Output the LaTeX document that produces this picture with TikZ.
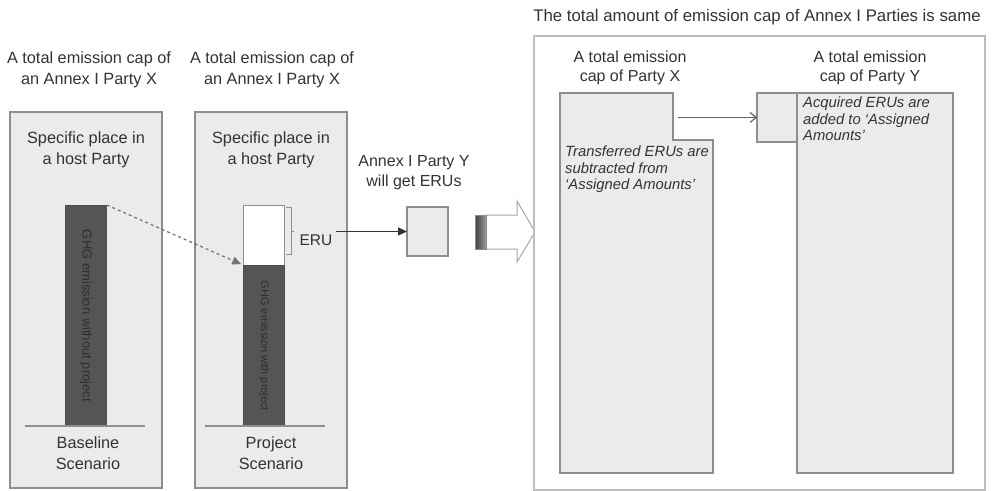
\documentclass[tikz,border=0pt]{standalone}
\usepackage{fontspec}
\setmainfont{Liberation Sans}
\usetikzlibrary{arrows.meta}
\definecolor{boxfill}{HTML}{EBEBEB}
\definecolor{boxline}{HTML}{8E8E8E}
\definecolor{outerline}{HTML}{BDBDBD}
\definecolor{bardark}{HTML}{555555}
\definecolor{bartext}{HTML}{2E2E2E}
\definecolor{txt}{HTML}{333333}
\begin{document}
\begin{tikzpicture}[x=1pt,y=-1pt,
  rectbox/.style={draw=boxline,fill=boxfill,line width=1.3pt,anchor=north west,inner sep=0pt,outer sep=0pt},
  lab/.style={text=txt,align=center,font=\fontsize{16.3}{21}\selectfont,inner sep=0pt},
  labr/.style={text=txt,align=center,font=\fontsize{16}{19}\selectfont,inner sep=0pt},
  itlab/.style={text=txt,align=left,font=\fontsize{14.8}{16.5}\selectfont\itshape,inner sep=0pt,anchor=north west},
  bartxt/.style={text=bartext,font=\fontsize{12}{12}\selectfont,rotate=-90,inner sep=0pt},
  groundline/.style={draw=boxline,line width=1.5pt}
]
\useasboundingbox (0,0) rectangle (995,490);

% ---------- left panels ----------
\node[rectbox,minimum width=152pt,minimum height=376pt] (p1) at (10,112) {};
\node[rectbox,minimum width=152pt,minimum height=376pt] (p2) at (195,112) {};

\node[lab] (t1) at (89,70) {A total emission cap of\\an Annex I Party X};
\node[lab] (t2) at (272,70) {A total emission cap of\\an Annex I Party X};

\node[lab] (s1) at (86,150) {Specific place in\\a host Party};
\node[lab] (s2) at (271,150) {Specific place in\\a host Party};

% bars
\node[draw=black!70,fill=bardark,line width=0.8pt,anchor=north west,inner sep=0pt,minimum width=41pt,minimum height=221pt] (bar1) at (65,205) {};
\node[bartxt,font=\fontsize{13}{13}\selectfont] (bt1) at (bar1.center) {GHG emission without project};

\node[draw=boxline,fill=white,line width=1pt,anchor=north west,inner sep=0pt,minimum width=41pt,minimum height=60pt] (eruw) at (243,205) {};
\node[draw=black!70,fill=bardark,line width=0.8pt,anchor=north west,inner sep=0pt,minimum width=41pt,minimum height=161pt] (bar2) at (243,265) {};
\node[bartxt,font=\fontsize{11}{11}\selectfont] (bt2) at (bar2.center) {GHG emission with project};

% ground lines
\coordinate (g1a) at (25,426); \coordinate (g1b) at (145,426);
\coordinate (g2a) at (205,426); \coordinate (g2b) at (325,426);
\draw[groundline] (g1a) -- (g1b);
\draw[groundline] (g2a) -- (g2b);

\node[lab] (sc1) at (88,453) {Baseline\\Scenario};
\node[lab] (sc2) at (271,453) {Project\\Scenario};

% dashed arrow
\draw[draw=black!55,dashed,line width=1.2pt,-{Triangle[length=9pt,width=8pt]},shorten >=2pt] (bar1.north east) -- (bar2.north west);

% ERU bracket
\coordinate (brt) at (286,207); \coordinate (brb) at (286,254);
\draw[draw=boxline,line width=1pt] (brt) -- ++(5,0) -- ++(0,47) -- (brb);
\draw[draw=boxline,line width=1pt] (291,231) -- ++(3,0);
\node[lab,font=\fontsize{15.5}{15.5}\selectfont] (eru) at (316,240) {ERU};

% Annex I Party Y
\node[lab,font=\fontsize{16}{20}\selectfont] (py) at (414,173) {Annex I Party Y\\will get ERUs};
\node[rectbox,line width=1.2pt,minimum width=41pt,minimum height=49pt] (sq) at (407,207) {};
\draw[draw=black!80,line width=1.2pt,-{Triangle[length=9pt,width=8pt]}] (eru.east |- sq.west) ++(3,0) -- (sq.west);

% block arrow
\shade[left color=black!75,right color=black!40] (475,215) rectangle (486,249);
\draw[draw=black!35,line width=1pt,fill=white] (486,215) -- (517,215) -- (517,201) -- (535,232) -- (517,262) -- (517,249) -- (486,249) -- cycle;
\draw[draw=black!45,line width=1pt] (475,215) rectangle (486,249);

% ---------- right panel ----------
\node[text=txt,font=\fontsize{16.8}{17}\selectfont,inner sep=0pt] (rt) at (757,17) {The total amount of emission cap of Annex I Parties is same};
\node[draw=outerline,fill=white,line width=1.5pt,anchor=north west,inner sep=0pt,minimum width=451pt,minimum height=454pt] (big) at (533,35) {};

\node[labr] (tx) at (630,68) {A total emission\\cap of Party X};
\node[labr] (ty) at (870,68) {A total emission\\cap of Party Y};

% Party X (L-shape)
\draw[draw=boxline,fill=boxfill,line width=1.3pt] (560,93) -- (673,93) -- (673,140) -- (713,140) -- (713,473) -- (560,473) -- cycle;
\node[itlab] (xt) at (565,146) {Transferred ERUs are\\subtracted from\\‘Assigned Amounts’};

% Party Y
\node[rectbox,minimum width=156pt,minimum height=380pt] (ybig) at (797,93) {};
\node[rectbox,minimum width=40pt,minimum height=49pt] (ysmall) at (757,93) {};
\node[itlab] (yt) at (803,97) {Acquired ERUs are\\added to ‘Assigned\\Amounts’};

\coordinate (xn) at (678,117.5);
\draw[draw=black!60,line width=1.2pt,-{Straight Barb[length=6pt,width=10pt]}] (xn) -- (ysmall.west);
\end{tikzpicture}
\end{document}
